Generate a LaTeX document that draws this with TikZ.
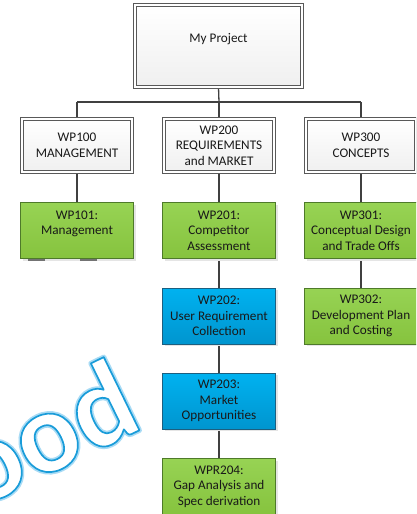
\documentclass[tikz,border=0pt]{standalone}
\usepackage{fontspec}
\setmainfont{Carlito}
\usetikzlibrary{shadows,calc,backgrounds}
\definecolor{linec}{HTML}{404040}
\definecolor{grnA}{HTML}{97D354}
\definecolor{grnB}{HTML}{86C33E}
\definecolor{grnD}{HTML}{4E7A2A}
\definecolor{bluA}{HTML}{00B2F0}
\definecolor{bluB}{HTML}{0095CF}
\definecolor{bluD}{HTML}{1C5F80}
\definecolor{wmblue}{HTML}{1A9CD8}
\definecolor{wmglow}{HTML}{A8DBF4}
\newcommand{\outlinetext}[3]{% #1 stroke width, #2 stroke rgb, #3 text
  \special{pdf:literal direct 2 Tr #1 w 1 J 1 j #2 RG}#3\special{pdf:literal direct 0 Tr}}
\tikzset{
  conn/.style={draw=linec, line width=1.3pt},
  box/.style={rectangle, align=center, inner sep=1pt, text=black!90,
    font=\fontsize{13.2}{15.7}\selectfont},
  headbox/.style={box, minimum width=110pt, minimum height=53pt,
    draw=black!65, double=white, double distance=2pt, line width=0.9pt,
    top color=white, bottom color=black!6,
    drop shadow={shadow xshift=2pt, shadow yshift=-2pt, fill=black!12, opacity=1}},
  greenbox/.style={box, minimum width=113pt, minimum height=56pt,
    draw=grnD, line width=1pt, top color=grnA, bottom color=grnB,
    drop shadow={shadow xshift=2pt, shadow yshift=-2pt, fill=black!10, opacity=1}},
  bluebox/.style={box, minimum width=113pt, minimum height=56pt,
    draw=bluD, line width=1pt, top color=bluA, bottom color=bluB,
    drop shadow={shadow xshift=2pt, shadow yshift=-2pt, fill=black!10, opacity=1}},
  wm/.style={font=\fontsize{116}{116}\bfseries\selectfont, rotate=26, inner sep=0pt}
}
\begin{document}
\begin{tikzpicture}[x=1pt,y=1pt]
\useasboundingbox (0,0) rectangle (416,-514);
\clip (0,0) rectangle (416,-514);

% watermark: glow, then outlined white letters
\node[wm, text=wmglow] (wmglowtext) at (44,-432) {\outlinetext{5}{0.66 0.86 0.96}{ood}};
\node[wm, text=white] (wmark) at (44,-432) {\outlinetext{1.7}{0.10 0.61 0.85}{ood}};

% top
\node[headbox, minimum width=167pt, minimum height=82pt] (proj) at (218.5,-46) {My Project\\[1pt]\mbox{}};

% level 2
\node[headbox] (wp100) at (77,-145.5) {WP100\\MANAGEMENT};
\node[headbox] (wp200) at (219,-145.5) {WP200\\REQUIREMENTS\\and MARKET};
\node[headbox] (wp300) at (361,-145.5) {WP300\\CONCEPTS};

% level 3
\node[greenbox] (wp101) at (77,-230.5) {WP101:\\Management\\\mbox{}};
\node[greenbox] (wp201) at (219,-230.5) {WP201:\\Competitor\\Assessment};
\node[greenbox] (wp301) at (361,-230.5) {WP301:\\Conceptual Design\\and Trade Offs};
\node[bluebox] (wp202) at (219,-316) {WP202:\\User Requirement\\Collection};
\node[greenbox] (wp302) at (361,-316) {WP302:\\Development Plan\\and Costing};
\node[bluebox] (wp203) at (219,-401) {WP203:\\Market\\Opportunities};
\node[greenbox] (wp204) at (219,-486.5) {WPR204:\\Gap Analysis and\\Spec derivation};

% small remnants under WP101
\fill[black!55] (28,-259) rectangle (45,-261);
\fill[black!55] (80,-259) rectangle (97,-261);

% connectors
\begin{scope}[on background layer]
\fill[white] (0,0) rectangle (416,-514);
\coordinate (bus) at (219,-102);
\coordinate (busL) at (77,-102);
\coordinate (busR) at (361,-102);
\draw[conn] (proj.south) -- (bus);
\draw[conn] (busL) -- (busR);
\draw[conn] (busL) -- (wp100.north);
\draw[conn] (bus) -- (wp200.north);
\draw[conn] (busR) -- (wp300.north);
\draw[conn] (wp100.south) -- (wp101.north);
\draw[conn] (wp200.south) -- (wp201.north);
\draw[conn] (wp300.south) -- (wp301.north);
\draw[conn] (wp201.south) -- (wp202.north);
\draw[conn] (wp202.south) -- (wp203.north);
\draw[conn] (wp203.south) -- (wp204.north);
\draw[conn] (wp301.south) -- (wp302.north);
\end{scope}
\end{tikzpicture}
\end{document}
